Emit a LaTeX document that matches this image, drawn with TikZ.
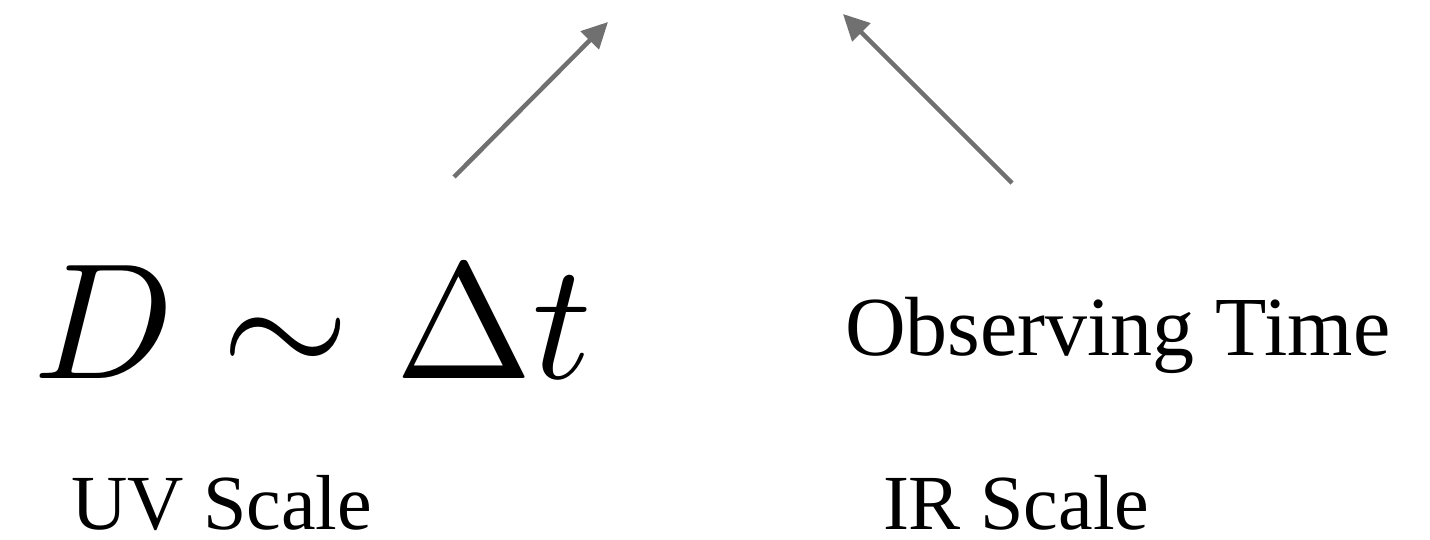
\documentclass[tikz,border=0pt]{standalone}
\usepackage{fontspec}
\setmainfont{Liberation Serif}
\usetikzlibrary{arrows.meta}
\definecolor{arrowgray}{HTML}{707070}
\tikzset{
  lbl/.style={inner sep=0pt, outer sep=0pt, anchor=base west, font=\fontsize{84}{84}\selectfont},
  scalelbl/.style={inner sep=0pt, outer sep=0pt, anchor=base west, font=\fontsize{78}{78}\selectfont},
  mathlbl/.style={inner sep=0pt, outer sep=0pt, anchor=base west},
  conn/.style={draw=arrowgray, line width=4.5pt, -{Triangle[length=26pt,width=25pt]}, shorten >=0pt}
}
\begin{document}
\begin{tikzpicture}[x=1pt,y=-1pt]
\useasboundingbox (0,0) rectangle (1430,540);
\node[mathlbl] (eq) at (34,378) {\scalebox{16.5}{\fontsize{10}{12}\selectfont$D \sim \Delta t$}};
\node[lbl] (obs) at (845,355) {Observing Time};
\node[scalelbl] (uv) at (71,529) {UV Scale};
\node[scalelbl] (ir) at (883,529) {IR Scale};
\coordinate (a1s) at (454,177);
\coordinate (a1t) at (608,22);
\coordinate (a2s) at (1012,183);
\coordinate (a2t) at (843,14);
\draw[conn] (a1s) -- (a1t);
\draw[conn] (a2s) -- (a2t);
\end{tikzpicture}
\end{document}
